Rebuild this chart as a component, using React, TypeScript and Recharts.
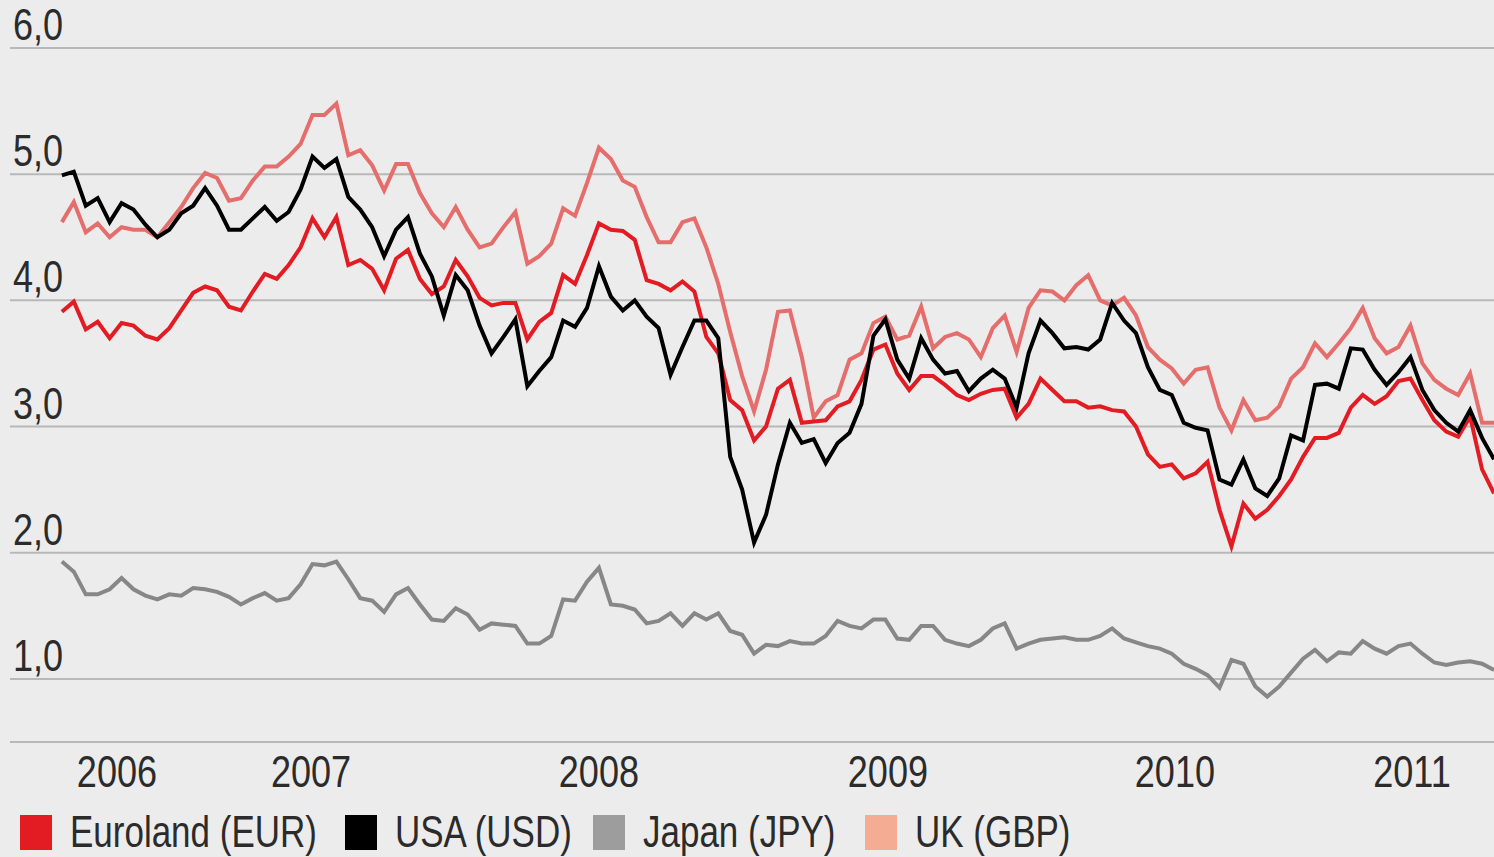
import React from "react";
import {
  LineChart,
  Line,
  XAxis,
  YAxis,
  CartesianGrid,
} from "recharts";

// Yields in %, one point roughly every two weeks, from late July 2006 to late July 2011
const START = 2006.576;
const STEP = 0.041625;

const EUR = [
  3.91, 3.99, 3.77, 3.83, 3.7, 3.82, 3.8, 3.72, 3.69, 3.78, 3.92, 4.06, 4.11, 4.08, 3.95, 3.92, 4.07, 4.21, 4.17, 4.28,
  4.42, 4.65, 4.5, 4.66, 4.28, 4.32, 4.25, 4.08, 4.33, 4.4, 4.17, 4.05, 4.11, 4.32, 4.19, 4.02, 3.96, 3.98, 3.98, 3.69,
  3.83, 3.9, 4.2, 4.13, 4.36, 4.61, 4.56, 4.55, 4.48, 4.16, 4.13, 4.08, 4.15, 4.07, 3.71, 3.58, 3.21, 3.13, 2.89, 3.0,
  3.3, 3.37, 3.03, 3.04, 3.05, 3.16, 3.2, 3.37, 3.61, 3.65, 3.42, 3.29, 3.4, 3.4, 3.33, 3.25, 3.21, 3.26, 3.29, 3.3,
  3.07, 3.18, 3.38, 3.29, 3.2, 3.2, 3.15, 3.16, 3.13, 3.12, 3.0, 2.78, 2.68, 2.7, 2.59, 2.63, 2.72, 2.34, 2.05, 2.39,
  2.27, 2.34, 2.45, 2.58, 2.76, 2.91, 2.91, 2.95, 3.15, 3.25, 3.18, 3.24, 3.36, 3.38, 3.21, 3.05, 2.96, 2.92, 3.08, 2.66,
  2.47,
];

const USD = [
  4.99, 5.02, 4.75, 4.81, 4.62, 4.77, 4.72, 4.6, 4.5, 4.56, 4.69, 4.75, 4.89, 4.75, 4.56, 4.56, 4.65, 4.74, 4.63, 4.7,
  4.88, 5.14, 5.05, 5.12, 4.82, 4.72, 4.58, 4.35, 4.56, 4.66, 4.37, 4.19, 3.88, 4.2, 4.08, 3.8, 3.58, 3.71, 3.85, 3.32,
  3.44, 3.55, 3.84, 3.79, 3.94, 4.27, 4.03, 3.92, 4.0, 3.87, 3.78, 3.41, 3.63, 3.84, 3.84, 3.7, 2.76, 2.5, 2.08, 2.3,
  2.7, 3.03, 2.87, 2.9, 2.71, 2.87, 2.95, 3.18, 3.72, 3.85, 3.53, 3.38, 3.7, 3.53, 3.42, 3.44, 3.28, 3.38, 3.45, 3.38,
  3.15, 3.58, 3.84, 3.74, 3.62, 3.63, 3.61, 3.69, 3.98, 3.84, 3.74, 3.47, 3.29, 3.25, 3.03, 2.99, 2.97, 2.58, 2.54, 2.74,
  2.51, 2.45, 2.59, 2.93, 2.89, 3.33, 3.34, 3.3, 3.62, 3.61, 3.45, 3.33, 3.43, 3.55, 3.29, 3.13, 3.03, 2.96, 3.13, 2.91,
  2.74,
];

const JPY = [
  1.93, 1.85, 1.67, 1.67, 1.71, 1.8, 1.71, 1.66, 1.63, 1.67, 1.66, 1.72, 1.71, 1.69, 1.65, 1.59, 1.64, 1.68, 1.62, 1.64,
  1.75, 1.91, 1.9, 1.93, 1.79, 1.64, 1.62, 1.53, 1.67, 1.72, 1.59, 1.47, 1.46, 1.56, 1.51, 1.39, 1.44, 1.43, 1.42, 1.28,
  1.28, 1.34, 1.63, 1.62, 1.77, 1.88, 1.59, 1.58, 1.55, 1.44, 1.46, 1.52, 1.42, 1.52, 1.47, 1.52, 1.38, 1.35, 1.2, 1.27,
  1.26, 1.3, 1.28, 1.28, 1.34, 1.46, 1.42, 1.4, 1.47, 1.47, 1.32, 1.31, 1.42, 1.42, 1.31, 1.28, 1.26, 1.31, 1.4, 1.44,
  1.24, 1.28, 1.31, 1.32, 1.33, 1.31, 1.31, 1.34, 1.4, 1.32, 1.29, 1.26, 1.24, 1.2, 1.12, 1.08, 1.03, 0.93, 1.15, 1.12,
  0.94, 0.86, 0.94, 1.05, 1.16, 1.23, 1.14, 1.21, 1.2, 1.3, 1.24, 1.2, 1.26, 1.28, 1.2, 1.13, 1.11, 1.13, 1.14, 1.12,
  1.07,
];

const GBP = [
  4.62, 4.78, 4.54, 4.61, 4.5, 4.58, 4.56, 4.56, 4.5, 4.62, 4.74, 4.89, 5.01, 4.97, 4.79, 4.81, 4.95, 5.06, 5.06, 5.14,
  5.24, 5.47, 5.47, 5.56, 5.15, 5.19, 5.07, 4.87, 5.08, 5.08, 4.85, 4.69, 4.58, 4.74, 4.56, 4.42, 4.45, 4.58, 4.7, 4.29,
  4.35, 4.45, 4.73, 4.67, 4.93, 5.21, 5.12, 4.95, 4.9, 4.66, 4.46, 4.46, 4.62, 4.65, 4.42, 4.13, 3.75, 3.4, 3.12, 3.45,
  3.91, 3.92, 3.55, 3.07, 3.2, 3.25, 3.53, 3.58, 3.82, 3.87, 3.69, 3.72, 3.95, 3.62, 3.71, 3.74, 3.69, 3.55, 3.78, 3.88,
  3.59, 3.94, 4.08, 4.07, 4.0, 4.12, 4.2, 4.0, 3.96, 4.02, 3.88, 3.63, 3.53, 3.46, 3.34, 3.45, 3.47, 3.15, 2.97, 3.21,
  3.05, 3.07, 3.16, 3.38, 3.47, 3.66, 3.55, 3.66, 3.78, 3.94, 3.7, 3.58, 3.63, 3.8, 3.5, 3.37, 3.3, 3.25, 3.42, 3.03,
  3.03,
];

const Y_TICKS = [1, 2, 3, 4, 5, 6];
// tick marks at the start of the data and at each new year
const YEAR_MARKS = [2006.576, 2007, 2008, 2009, 2010, 2011];
// year labels sit inside each year span
const YEAR_LABELS = [2006.768, 2007.445, 2008.449, 2009.457, 2010.458, 2011.285];

const SERIES = [
  { key: "gbp", name: "UK (GBP)", line: "#e56e6c", swatch: "#f4ad92" },
  { key: "eur", name: "Euroland (EUR)", line: "#e31b23", swatch: "#e31b23" },
  { key: "usd", name: "USA (USD)", line: "#000000", swatch: "#000000" },
  { key: "jpy", name: "Japan (JPY)", line: "#878787", swatch: "#9d9d9d" },
];
const LEGEND_ORDER = ["eur", "usd", "jpy", "gbp"];
// left edge of each legend swatch
const LEGEND_LEFT = [20, 345, 593, 865];

const data = EUR.map((v, i) => ({
  t: START + i * STEP,
  eur: v,
  usd: USD[i],
  jpy: JPY[i],
  gbp: GBP[i],
}));

// condensed look: Liberation Sans squeezed horizontally
const FONT = "'Liberation Sans', Arial, sans-serif";
const SQUEEZE = 0.82;
const LEGEND_SQUEEZE = 0.795;
const TEXT = "#2b2b2b";

function YTick(props: any) {
  const { y, payload } = props;
  return (
    <text
      transform={`translate(13 ${y - 8}) scale(${SQUEEZE} 1)`}
      fontSize={44}
      fill={TEXT}
      fontFamily={FONT}
    >
      {payload.value.toFixed(1).replace(".", ",")}
    </text>
  );
}

function YearTick(props: any) {
  const { x, payload } = props;
  return (
    <text
      transform={`translate(${x} 787) scale(${SQUEEZE} 1)`}
      fontSize={44}
      fill={TEXT}
      fontFamily={FONT}
      textAnchor="middle"
    >
      {Math.floor(payload.value)}
    </text>
  );
}

export default function App() {
  return (
    <div
      style={{
        position: "absolute",
        left: 0,
        top: 0,
        width: 1494,
        height: 857,
        background: "#ececec",
        overflow: "hidden",
      }}
    >
      <LineChart
        width={1494}
        height={800}
        data={data}
        margin={{ top: 48, right: 0, left: 0, bottom: 0 }}
      >
        <CartesianGrid horizontal vertical={false} stroke="#b8b8b8" strokeWidth={2} />
        <XAxis
          dataKey="t"
          type="number"
          domain={[2006.395, 2011.571]}
          allowDataOverflow
          ticks={YEAR_MARKS}
          interval={0}
          height={8}
          tickSize={9}
          tick={false}
          axisLine={{ stroke: "#b8b8b8", strokeWidth: 2 }}
          tickLine={{ stroke: "#b8b8b8", strokeWidth: 1.5 }}
        />
        <XAxis
          xAxisId="lbl"
          dataKey="t"
          type="number"
          domain={[2006.395, 2011.571]}
          allowDataOverflow
          ticks={YEAR_LABELS}
          interval={0}
          height={50}
          axisLine={false}
          tickLine={false}
          tick={<YearTick />}
        />
        <YAxis
          width={10}
          domain={[0.5, 6]}
          allowDataOverflow
          ticks={Y_TICKS}
          interval={0}
          axisLine={false}
          tickLine={false}
          tick={<YTick />}
        />
        {SERIES.map((s) => (
          <Line
            key={s.key}
            type="linear"
            dataKey={s.key}
            name={s.name}
            stroke={s.line}
            strokeWidth={4}
            dot={false}
            isAnimationActive={false}
          />
        ))}
      </LineChart>

      {LEGEND_ORDER.map((k, i) => {
        const s = SERIES.find((x) => x.key === k)!;
        return (
          <div
            key={k}
            style={{
              position: "absolute",
              left: LEGEND_LEFT[i],
              top: 808,
              height: 48,
              display: "flex",
              alignItems: "center",
              fontFamily: FONT,
              fontSize: 44,
              lineHeight: "48px",
              color: TEXT,
              whiteSpace: "nowrap",
            }}
          >
            <span
              style={{
                display: "inline-block",
                width: 32,
                height: 35,
                background: s.swatch,
                marginRight: 18,
              }}
            />
            <span
              style={{
                display: "inline-block",
                transform: `scaleX(${LEGEND_SQUEEZE})`,
                transformOrigin: "left center",
              }}
            >
              {s.name}
            </span>
          </div>
        );
      })}
    </div>
  );
}
